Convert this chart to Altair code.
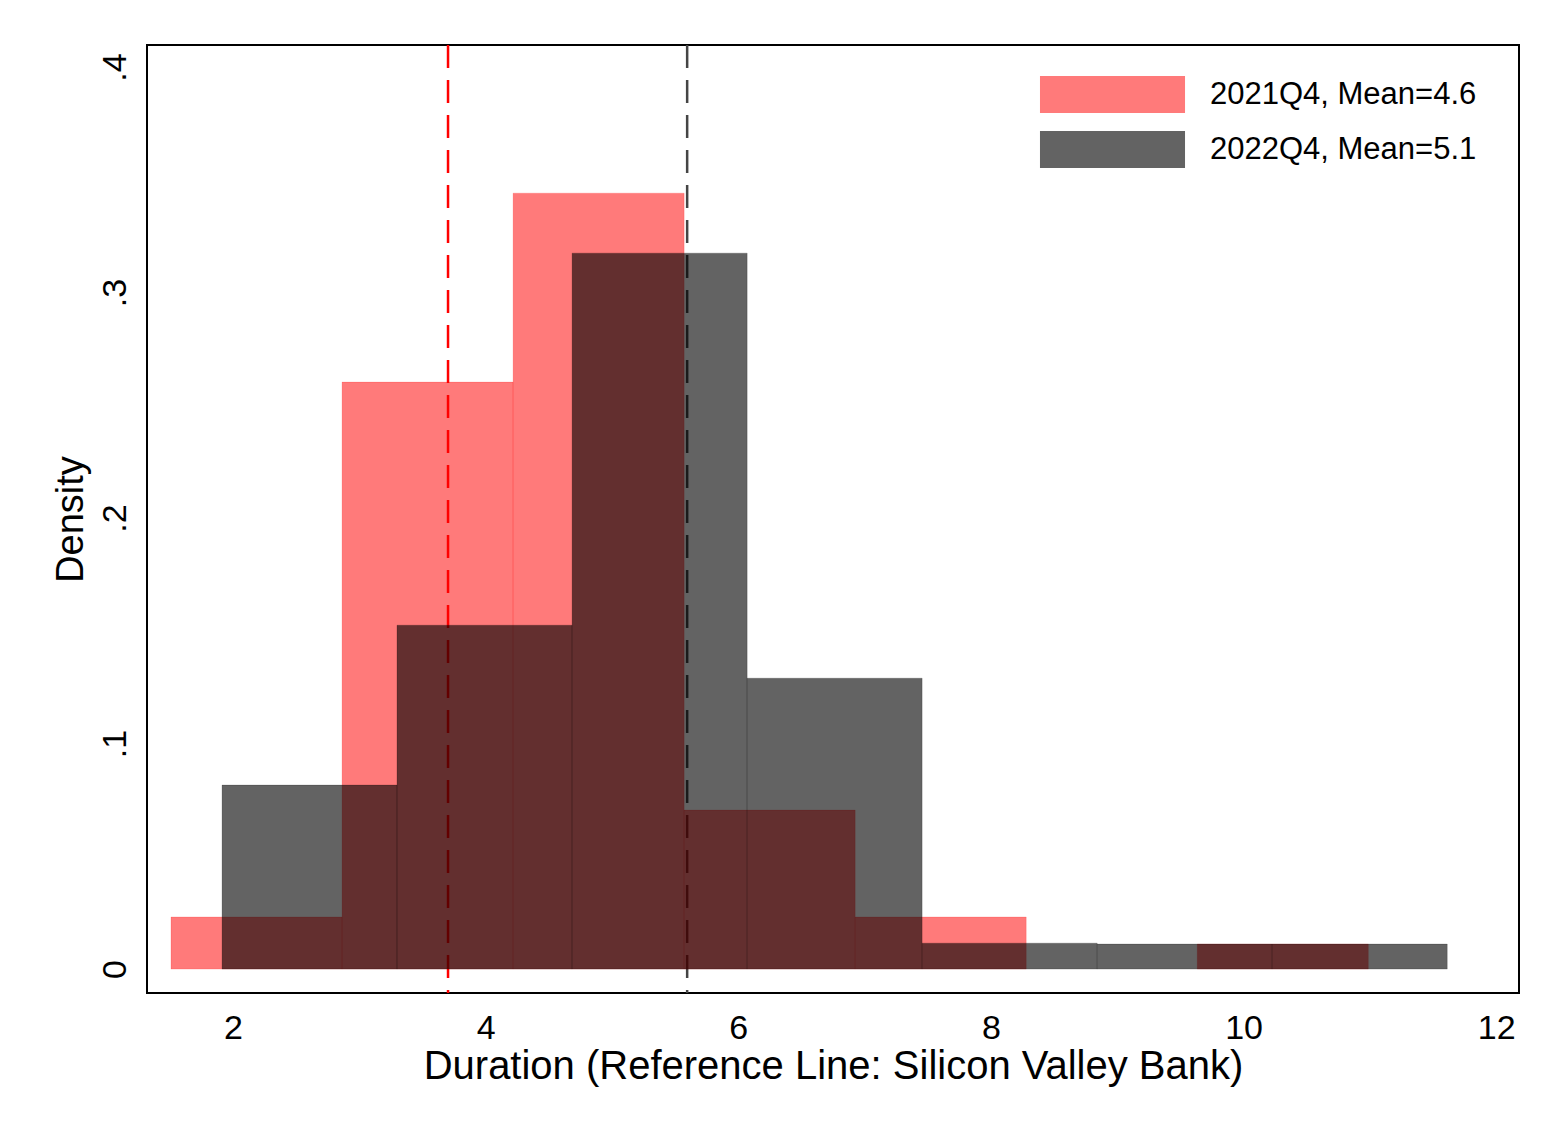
import altair as alt
import pandas as pd

# ---- data ----
series_names = ["2021Q4, Mean=4.6", "2022Q4, Mean=5.1"]

red_edges = [1.509, 2.863, 4.217, 5.571, 6.925, 8.279, 9.633, 10.987]
red_density = [0.0231, 0.2603, 0.3441, 0.0705, 0.0231, 0.0, 0.0111]

gray_edges = [1.913, 3.298, 4.684, 6.070, 7.455, 8.841, 10.226, 11.612]
gray_density = [0.0816, 0.1525, 0.3175, 0.1290, 0.0115, 0.0111, 0.0111]

ref_lines = [3.702, 5.595]          # red (2021Q4) and gray (2022Q4) reference lines
x_ticks = [2, 4, 6, 8, 10, 12]
y_ticks = [0, 0.1, 0.2, 0.3, 0.4]

FONT = "Liberation Sans"

rows = []
for name, edges, dens in ((series_names[0], red_edges, red_density),
                          (series_names[1], gray_edges, gray_density)):
    for i, d in enumerate(dens):
        if d > 0:
            rows.append({"series": name, "x0": edges[i], "x1": edges[i + 1],
                         "density": d, "base": 0.0})
df = pd.DataFrame(rows)

x_scale = alt.Scale(domain=[1.319, 12.18], nice=False, zero=False)
y_scale = alt.Scale(domain=[-0.0106, 0.4098], nice=False, zero=False)
fills = ["rgba(255,0,0,0.52)", "rgba(0,0,0,0.61)"]

x_axis = alt.Axis(values=x_ticks, format="d", ticks=False, domain=False, grid=False,
                  labelFontSize=34, labelPadding=18, labelFlush=False,
                  labelFont=FONT, labelColor="black",
                  title="Duration (Reference Line: Silicon Valley Bank)",
                  titleFont=FONT, titleFontSize=40, titleFontWeight="normal",
                  titleColor="black", titlePadding=1)
y_axis = alt.Axis(values=y_ticks, ticks=False, domain=False, grid=False,
                  labelExpr="datum.value == 0 ? '0' : replace(format(datum.value, '.1f'), '0.', '.')",
                  labelAngle=270, labelAlign="center", labelBaseline="bottom",
                  labelPadding=15, labelFontSize=34, labelFont=FONT, labelColor="black",
                  title="Density", titleFont=FONT, titleFontSize=38,
                  titleFontWeight="normal", titleColor="black", titlePadding=8)

bars = alt.Chart(df).mark_bar(strokeWidth=1, strokeOpacity=0.3).encode(
    x=alt.X("x0:Q", scale=x_scale, axis=x_axis),
    x2="x1:Q",
    y=alt.Y("density:Q", scale=y_scale, axis=y_axis),
    y2="base:Q",
    color=alt.Color("series:N",
                    scale=alt.Scale(domain=series_names, range=fills),
                    legend=alt.Legend(orient="none", legendX=947, legendY=31,
                                      title=None, padding=0,
                                      symbolType="M-3.92,-1H3.92V1H-3.92Z",
                                      symbolSize=1369, symbolStrokeWidth=0,
                                      labelFontSize=31, labelFont=FONT,
                                      labelColor="black", labelOffset=79,
                                      rowPadding=18, labelLimit=0)),
    stroke=alt.Stroke("series:N",
                      scale=alt.Scale(domain=series_names, range=fills),
                      legend=None),
)

rule_red = alt.Chart(pd.DataFrame({"x": [ref_lines[0]]})).mark_rule(
    color="red", strokeWidth=2.5, strokeDash=[23, 12]
).encode(x=alt.X("x:Q", scale=x_scale))

rule_gray = alt.Chart(pd.DataFrame({"x": [ref_lines[1]]})).mark_rule(
    color="#454545", strokeWidth=2.5, strokeDash=[23, 12]
).encode(x=alt.X("x:Q", scale=x_scale))

chart = alt.layer(rule_red, rule_gray, bars).properties(
    width=1372, height=948,
    autosize=alt.AutoSizeParams(type="none"),
    padding={"left": 139, "top": 37, "right": 22, "bottom": 127},
    background="white",
).configure_view(stroke="black", strokeWidth=2)

chart.save("out.html", embed_options={"renderer": "svg", "actions": False})
